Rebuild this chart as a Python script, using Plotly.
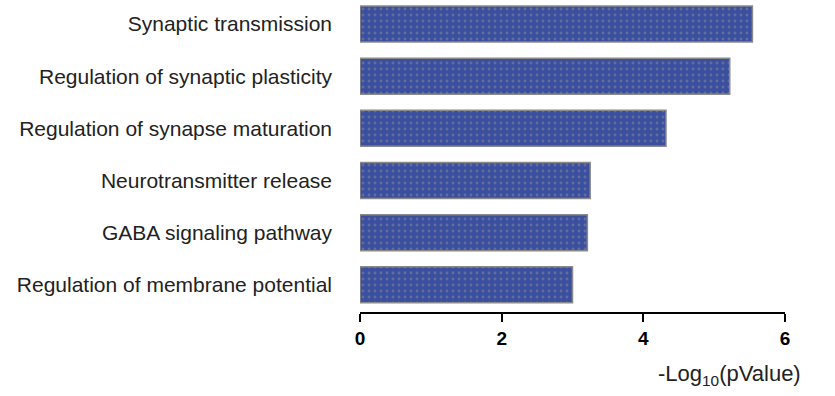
import plotly.graph_objects as go

# GO terms and their enrichment scores
terms = [
    "Synaptic transmission",
    "Regulation of synaptic plasticity",
    "Regulation of synapse maturation",
    "Neurotransmitter release",
    "GABA signaling pathway",
    "Regulation of membrane potential",
]
neg_log10_p = [5.54, 5.22, 4.32, 3.25, 3.21, 3.00]
x_ticks = [0, 2, 4, 6]

fig = go.Figure(
    go.Bar(
        x=neg_log10_p,
        y=list(range(len(terms))),
        orientation="h",
        width=0.69,
        marker=dict(
            color="#3b4fa0",
            line=dict(color="#8a8a8a", width=1.5),
            pattern=dict(shape=".", fgcolor="#8c8c8c", bgcolor="#3b4fa0",
                         size=6, solidity=0.18),
        ),
        showlegend=False,
    )
)

fig.update_layout(
    width=835,
    height=396,
    margin=dict(l=360, r=50, t=0, b=84),
    paper_bgcolor="white",
    plot_bgcolor="white",
    font=dict(family="Liberation Sans, Arial, sans-serif", color="#222"),
    bargap=0.3,
)

fig.update_xaxes(
    range=[0, 6],
    tickvals=x_ticks,
    ticktext=[str(t) for t in x_ticks],
    showgrid=False,
    zeroline=False,
    showline=True,
    linecolor="black",
    linewidth=1.5,
    ticks="outside",
    ticklen=8,
    tickwidth=1.5,
    tickcolor="black",
    tickfont=dict(size=19, color="black", family="Liberation Sans, Arial", weight="bold"),
)

fig.update_yaxes(
    range=[5.52, -0.46],
    tickvals=list(range(len(terms))),
    ticktext=terms,
    showgrid=False,
    zeroline=False,
    showline=False,
    ticks="",
    ticklabelstandoff=27,
    tickfont=dict(size=21, color="#222"),
)

fig.add_annotation(
    text="-Log<sub>10</sub>(pValue)",
    xref="paper", yref="paper",
    x=1.043, y=-0.15,
    xanchor="right", yanchor="top",
    showarrow=False,
    font=dict(size=22, color="#222"),
)

fig.write_html("out.html")
